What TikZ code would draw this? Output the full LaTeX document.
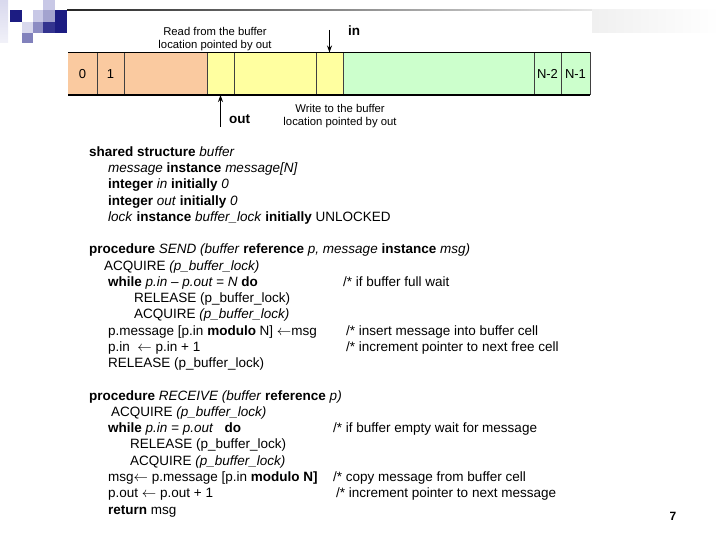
\documentclass[tikz,border=0pt]{standalone}
\usepackage{fontspec}
\setmainfont{Liberation Sans}
\usetikzlibrary{
    arrows.meta,
    positioning
}
\definecolor{peach}{RGB}{250,202,160}
\definecolor{paleyellow}{RGB}{255,255,160}
\definecolor{palegreen}{RGB}{204,255,204}
\definecolor{navy}{RGB}{28,28,130}
\definecolor{lavender}{RGB}{200,200,230}
\definecolor{slate}{RGB}{140,140,195}
\newcommand{\getsarrow}{\ensuremath{\leftarrow}}
\tikzstyle{cell} = [
    rectangle,
    inner sep=0pt,
    outer sep=0pt,
    minimum height=42.5pt,
    font=\fontsize{13}{15}\selectfont
]
\tikzstyle{divider} = [
    draw=black!75,
    line width=0.6pt
]
\tikzstyle{rim} = [
    draw=black,
    line width=1.6pt
]
\tikzstyle{pointer} = [
    -{Stealth[length=7pt,width=5pt]},
    line width=1pt
]
\tikzstyle{code} = [
    anchor=base west,
    inner sep=0pt,
    font=\fontsize{13.5}{16}\selectfont
]
\tikzstyle{note} = [
    align=center,
    inner sep=0pt,
    font=\fontsize{11.3}{13}\selectfont
]

\begin{document}
\begin{tikzpicture}[x=1pt, y=-1pt]
        \useasboundingbox (0,0) rectangle (720,540);

        % Slide decoration
        \shade[top color=lavender!70, bottom color=lavender!25] (0,0) rectangle (8,43);
        \fill[lavender] (43,0) rectangle (55,10);
        \fill[navy] (10,10) rectangle (22,22);
        \fill[lavender] (33,10) rectangle (43,22);
        \fill[slate!80] (43,10) rectangle (55,22);
        \fill[navy] (55,10) rectangle (67,33);
        \fill[lavender!70] (22,22) rectangle (33,33);
        \fill[slate] (33,22) rectangle (43,33);
        \fill[navy!90] (43,22) rectangle (55,33);
        \fill[slate!90!navy] (22,33) rectangle (33,43);
        \shade[left color=black!85, right color=black!10] (67,9.6) rectangle (592,10.6);
        \shade[left color=black!6, right color=white] (592,10) rectangle (720,33);

        % Buffer cells
        \node[cell, fill=peach, minimum width=29pt, anchor=north west] (c0) at (68,52.5) {0};
        \node[cell, fill=peach, minimum width=27pt, right=0pt of c0] (c1) {1};
        \node[cell, fill=peach, minimum width=83pt, right=0pt of c1] (c2) {};
        \node[cell, fill=paleyellow, minimum width=27pt, right=0pt of c2] (c3) {};
        \node[cell, fill=paleyellow, minimum width=82pt, right=0pt of c3] (c4) {};
        \node[cell, fill=paleyellow, minimum width=27pt, right=0pt of c4] (c5) {};
        \node[cell, fill=palegreen, minimum width=191pt, right=0pt of c5] (c6) {};
        \node[cell, fill=palegreen, minimum width=27pt, right=0pt of c6] (c7) {N-2};
        \node[cell, fill=palegreen, minimum width=29pt, right=0pt of c7] (c8) {N-1};

        \foreach \c in {c1,c2,c3,c4,c5,c6,c7,c8}
            \draw[divider] (\c.north west) -- (\c.south west);
        \draw[divider] (c8.north east) -- (c8.south east);
        \draw[rim] (c0.north west) -- (c8.north east);
        \draw[rim] (c0.south west) -- (c8.south east);

        % Pointers
        \coordinate (intail) at (329.5,30);
        \coordinate (outtail) at (220.5,127);
        \draw[pointer] (intail) -- (c5.north);
        \draw[pointer] (outtail) -- (c3.south);
        \node[code, font=\bfseries\fontsize{13.5}{15}\selectfont] (inlabel) at (348,36) {in};
        \node[code, font=\bfseries\fontsize{13.5}{15}\selectfont] (outlabel) at (229,124) {out};
        \node[note] (readnote) at (215,39) {Read from the buffer\\location pointed by out};
        \node[note] (writenote) at (340,116) {Write to the buffer\\location pointed by out};

        % Shared structure
        \node[code] (decl1) at (89,157) {\textbf{shared structure} \textit{buffer}};
        \node[code] (decl2) at (108,173) {\textit{message} \textbf{instance} \textit{message[N]}};
        \node[code] (decl3) at (108,189) {\textbf{integer} \textit{in} \textbf{initially} \textit{0}};
        \node[code] (decl4) at (108,205.5) {\textbf{integer} \textit{out} \textbf{initially} \textit{0}};
        \node[code] (decl5) at (108,221.5) {\textit{lock} \textbf{instance} \textit{buffer\_lock} \textbf{initially} UNLOCKED};

        % SEND
        \node[code] (send1) at (89,254) {\textbf{procedure} \textit{SEND (buffer} \textbf{reference} \textit{p, message} \textbf{instance} \textit{msg)}};
        \node[code] (send2) at (104,270) {ACQUIRE \textit{(p\_buffer\_lock)}};
        \node[code] (send3) at (108,286.5) {\textbf{while} \textit{p.in – p.out = N} \textbf{do}};
        \node[code] (send4) at (134,302.5) {RELEASE (p\_buffer\_lock)};
        \node[code] (send5) at (134,318.5) {ACQUIRE \textit{(p\_buffer\_lock)}};
        \node[code] (send6) at (108,335) {p.message [p.in \textbf{modulo} N] \getsarrow msg};
        \node[code] (send7) at (108,351) {p.in \ \getsarrow\ p.in + 1};
        \node[code] (send8) at (108,367.5) {RELEASE (p\_buffer\_lock)};
        \node[code] (sendc3) at (343,286.5) {/* if buffer full wait};
        \node[code] (sendc6) at (346,335) {/* insert message into buffer cell};
        \node[code] (sendc7) at (346,351) {/* increment pointer to next free cell};

        % RECEIVE
        \node[code] (recv1) at (89,400) {\textbf{procedure} \textit{RECEIVE (buffer} \textbf{reference} \textit{p)}};
        \node[code] (recv2) at (111,416) {ACQUIRE \textit{(p\_buffer\_lock)}};
        \node[code] (recv3) at (108,432.5) {\textbf{while} \textit{p.in = p.out}\ \ \ \textbf{do}};
        \node[code] (recv4) at (130,448.5) {RELEASE (p\_buffer\_lock)};
        \node[code] (recv5) at (130,465) {ACQUIRE \textit{(p\_buffer\_lock)}};
        \node[code] (recv6) at (108,481) {msg\getsarrow\ p.message [p.in \textbf{modulo N]}};
        \node[code] (recv7) at (108,497.5) {p.out \getsarrow\ p.out + 1};
        \node[code] (recv8) at (108,514) {\textbf{return} msg};
        \node[code] (recvc3) at (333,432.5) {/* if buffer empty wait for message};
        \node[code] (recvc6) at (333,481) {/* copy message from buffer cell};
        \node[code] (recvc7) at (336,497.5) {/* increment pointer to next message};

        % Page number
        \node[font=\bfseries\fontsize{12}{14}\selectfont] (pagenum) at (673,516) {7};
    \end{tikzpicture}
\end{document}
